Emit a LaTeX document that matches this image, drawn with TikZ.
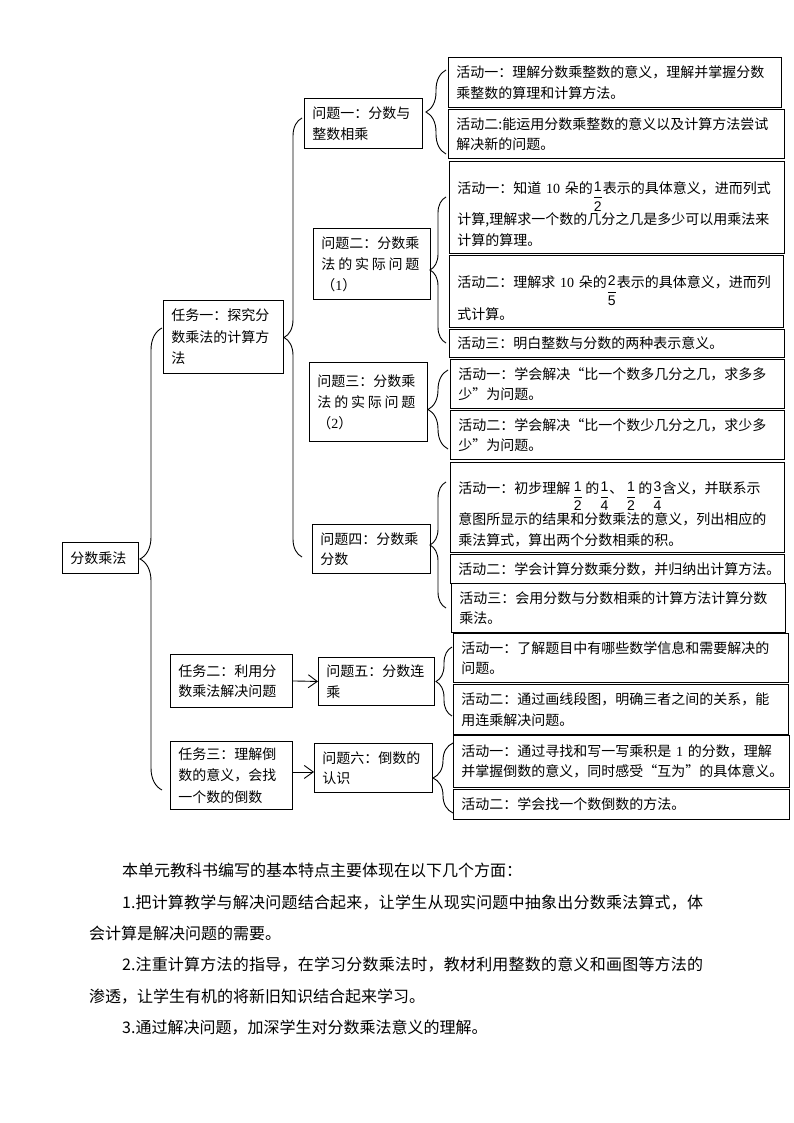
\documentclass[tikz,border=0pt]{standalone}
\usepackage[no-math]{fontspec}
\usepackage{amsmath}
\setmainfont{Noto Sans CJK SC}
\newfontfamily\lat{Liberation Serif}
\newfontfamily\sfd{Liberation Sans}
\newfontfamily\fwq[CharacterWidth=Full]{Noto Sans CJK SC}
\usetikzlibrary{decorations.pathreplacing,arrows.meta}
\newcommand\fr[2]{\raisebox{-8pt}{$\dfrac{\text{\sfd #1}}{\text{\sfd #2}}$}}
\newcommand\tallstrut{\rule{0pt}{25pt}}
% class for CJK characters, used to stretch justified lines
\newXeTeXintercharclass\cjkcls
\count255="4E00
\loop
  \XeTeXcharclass\count255=\cjkcls
  \ifnum\count255<"9FFF \advance\count255 by 1 \repeat
\XeTeXcharclass"FF0C=\cjkcls
\XeTeXcharclass"3002=\cjkcls
\XeTeXinterchartoks\cjkcls\cjkcls={\hskip 0pt plus 1pt\relax}
\newcommand\justline[2]{{\XeTeXinterchartokenstate=1 \makebox[#1][s]{#2}}}
\begin{document}
\begin{tikzpicture}[x=1pt,y=-1pt,
  bx/.style={draw, line width=0.9pt, anchor=north west, inner xsep=8pt, inner ysep=0pt, align=left, font=\fontsize{14pt}{20.5pt}\selectfont},
  brc/.style={decorate, decoration={brace, amplitude=#1}, line width=0.9pt},
  arr/.style={-{Straight Barb[length=9pt,width=13pt]}, line width=0.9pt},
  para/.style={anchor=west, inner sep=0pt, font=\fontsize{16pt}{20pt}\selectfont}]
\useasboundingbox (0,0) rectangle (794,1123);
\fill[white] (0,0) rectangle (794,1123);

% root and tasks
\node[bx, text width=60pt, minimum height=31pt] (root) at (62,542) {分数乘法};
\node[bx, text width=104pt, minimum height=73pt, font=\fontsize{14pt}{21.5pt}\selectfont] (t1) at (163,300) {任务一：探究分\\数乘法的计算方\\法};
\node[bx, text width=106pt, minimum height=53pt] (t2) at (170,654) {任务二：利用分\\数乘法解决问题};
\node[bx, text width=106pt, minimum height=68pt, font=\fontsize{14pt}{21.5pt}\selectfont] (t3) at (170,741) {任务三：理解倒\\数的意义，会找\\一个数的倒数};

% questions
\node[bx, text width=102pt, minimum height=50pt] (q1) at (304,98) {问题一：分数与\\整数相乘};
\node[bx, text width=101pt, minimum height=71pt, font=\fontsize{14pt}{21pt}\selectfont] (q2) at (313,228) {问题二：分数乘\\\makebox[98pt][s]{法\hfil 的\hfil 实\hfil 际\hfil 问\hfil 题}\\（{\lat 1}）};
\node[bx, text width=102pt, minimum height=79pt, font=\fontsize{14pt}{21pt}\selectfont] (q3) at (309,362) {问题三：分数乘\\\makebox[98pt][s]{法\hfil 的\hfil 实\hfil 际\hfil 问\hfil 题}\\（{\lat 2}）};
\node[bx, text width=102pt, minimum height=49pt] (q4) at (312,524) {问题四：分数乘\\分数};
\node[bx, text width=100pt, minimum height=48pt] (q5) at (318,657) {问题五：分数连\\乘};
\node[bx, text width=102pt, minimum height=49pt] (q6) at (314,743) {问题六：倒数的\\认识};

% activities
\node[bx, text width=317pt, minimum height=50pt] (a11) at (448,57) {活动一：理解分数乘整数的意义，理解并掌握分数\\乘整数的算理和计算方法。};
\node[bx, text width=320pt, minimum height=49pt] (a12) at (448,109) {活动二:能运用分数乘整数的意义以及计算方法尝试\\解决新的问题。};
\node[bx, text width=319pt, minimum height=92pt] (a21) at (449,161) {\tallstrut 活动一：知道 {\lat 10} 朵的\fr12表示的具体意义，进而列式\\[1pt]计算,理解求一个数的几分之几是多少可以用乘法来\\计算的算理。};
\node[bx, text width=318pt, minimum height=72pt] (a22) at (449,255) {\tallstrut 活动二：理解求 {\lat 10} 朵的\fr25表示的具体意义，进而列\\[1pt]式计算。};
\node[bx, text width=319pt, minimum height=28pt] (a23) at (449,329) {活动三：明白整数与分数的两种表示意义。};
\node[bx, text width=318pt, minimum height=49pt] (a31) at (450,359) {活动一：学会解决{\fwq “}比一个数多几分之几，求多多\\少{\fwq ”}为问题。};
\node[bx, text width=318pt, minimum height=49pt] (a32) at (450,410) {活动二：学会解决{\fwq “}比一个数少几分之几，求少多\\少{\fwq ”}为问题。};
\node[bx, text width=318pt, minimum height=90pt] (a41) at (450,462) {\tallstrut 活动一：初步理解\,\fr12\,的\fr14、\,\fr12\,的\fr34含义，并联系示\\[1pt]意图所显示的结果和分数乘法的意义，列出相应的\\乘法算式，算出两个分数相乘的积。};
\node[bx, text width=318pt, minimum height=29pt] (a42) at (450,554) {活动二：学会计算分数乘分数，并归纳出计算方法。};
\node[bx, text width=318pt, minimum height=49pt] (a43) at (451,583) {活动三：会用分数与分数相乘的计算方法计算分数\\乘法。};
\node[bx, text width=319pt, minimum height=49pt] (a51) at (453,633) {活动一：了解题目中有哪些数学信息和需要解决的\\问题。};
\node[bx, text width=319pt, minimum height=50pt] (a52) at (453,684) {活动二：通过画线段图，明确三者之间的关系，能\\用连乘解决问题。};
\node[bx, text width=320pt, minimum height=52pt] (a61) at (453,735) {活动一：通过寻找和写一写乘积是 {\lat 1} 的分数，理解\\并掌握倒数的意义，同时感受{\fwq “}互为{\fwq ”}的具体意义。};
\node[bx, text width=320pt, minimum height=30pt] (a62) at (453,789) {活动二：学会找一个数倒数的方法。};

% braces
\coordinate (rbT) at (162,328); \coordinate (rbB) at (162,790);
\draw[brc=22pt] (rbB) -- (rbT);
\coordinate (t1T) at (302,118); \coordinate (t1B) at (302,557);
\draw[brc=18pt] (t1B) -- (t1T);
\coordinate (q1T) at (446,70); \coordinate (q1B) at (446,154);
\draw[brc=20pt] (q1B) -- (q1T);
\coordinate (q2T) at (446,197); \coordinate (q2B) at (446,343);
\draw[brc=16pt] (q2B) -- (q2T);
\coordinate (q3T) at (448,370); \coordinate (q3B) at (448,449);
\draw[brc=20pt] (q3B) -- (q3T);
\coordinate (q4T) at (446,482); \coordinate (q4B) at (446,608);
\draw[brc=16pt] (q4B) -- (q4T);
\coordinate (q5T) at (452,647); \coordinate (q5B) at (452,716);
\draw[brc=16pt] (q5B) -- (q5T);
\coordinate (q6T) at (453,743); \coordinate (q6B) at (453,813);
\draw[brc=20pt] (q6B) -- (q6T);

% arrows
\draw[arr] (t2.east) -- (q5.west);
\coordinate (q6a) at ([yshift=-4pt]q6.west);
\draw[arr] (t3.east |- q6a) -- (q6a);

% paragraph text
\node[para] (p0) at (122,870) {本单元教科书编写的基本特点主要体现在以下几个方面：};
\node[para] (p1) at (122,903) {\justline{581pt}{1.把计算教学与解决问题结合起来，让学生从现实问题中抽象出分数乘法算式，体}};
\node[para] (p2) at (89,933) {会计算是解决问题的需要。};
\node[para] (p3) at (122,965) {\justline{581pt}{2.注重计算方法的指导，在学习分数乘法时，教材利用整数的意义和画图等方法的}};
\node[para] (p4) at (89,997) {渗透，让学生有机的将新旧知识结合起来学习。};
\node[para] (p5) at (122,1028) {3.通过解决问题，加深学生对分数乘法意义的理解。};
\end{tikzpicture}
\end{document}
